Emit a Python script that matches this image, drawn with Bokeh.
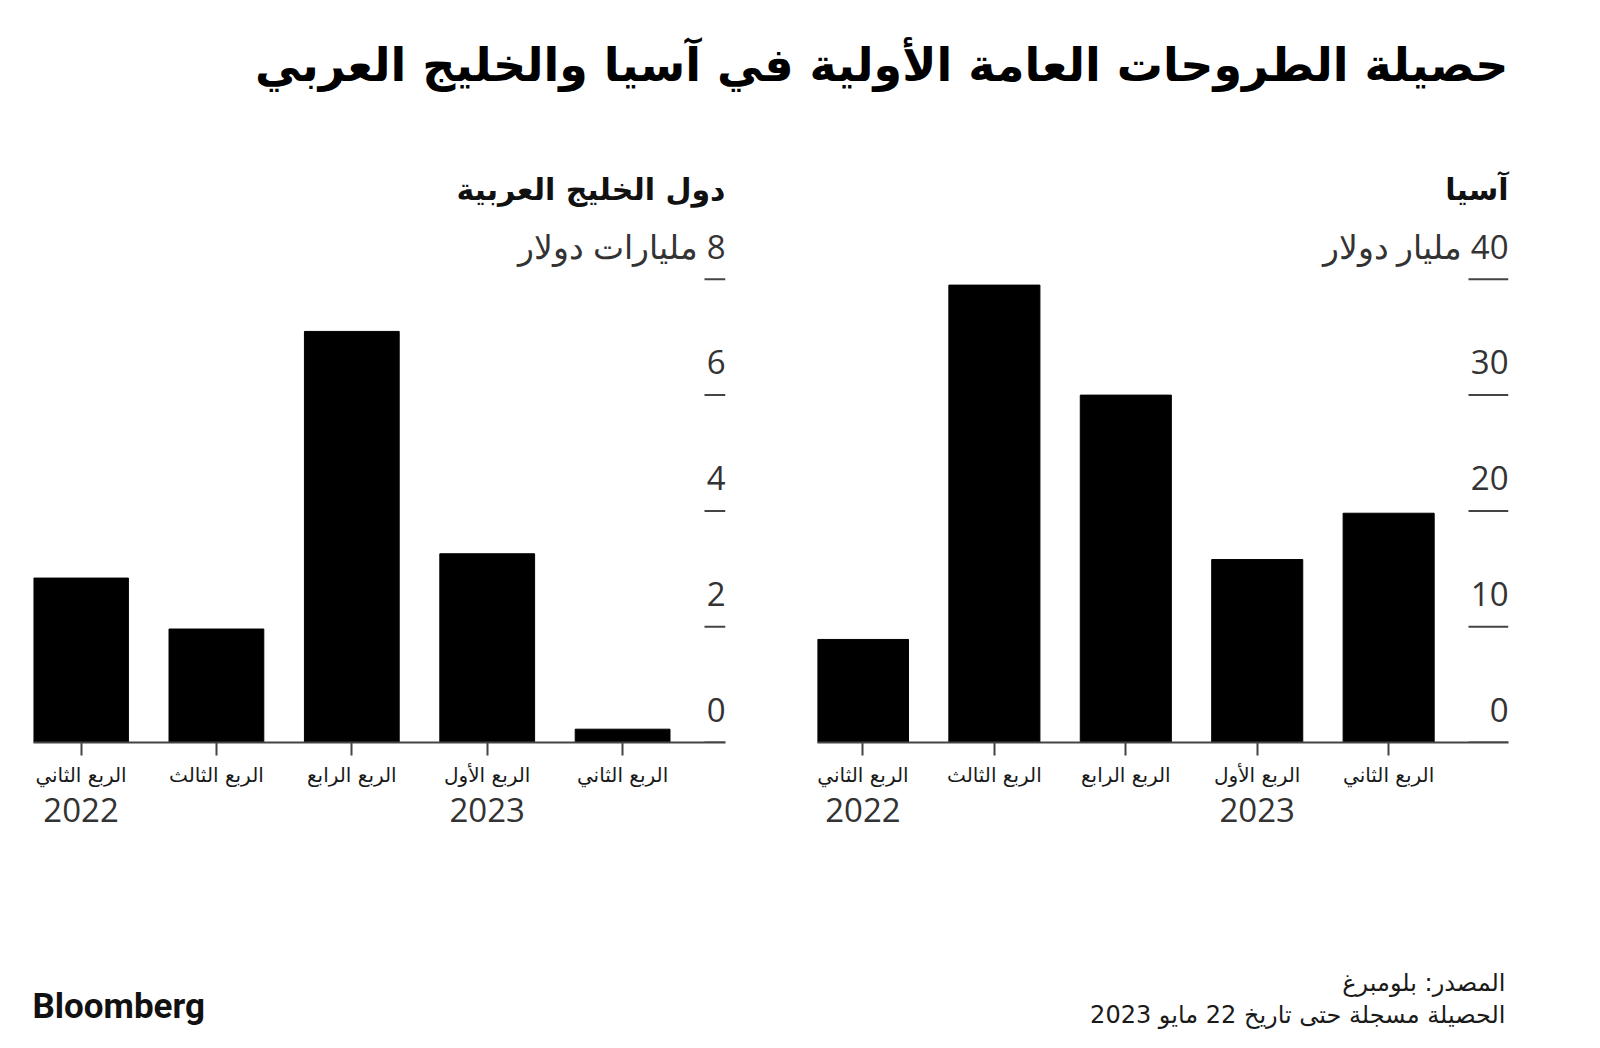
from bokeh.plotting import figure
from bokeh.models import Range1d, LinearAxis, FixedTicker, Label
from bokeh.layouts import column, row
from bokeh.embed import file_html
from bokeh.resources import INLINE
from bokeh.core.properties import value

# ---------------- data ----------------
title_text = "حصيلة الطروحات العامة الأولية في آسيا والخليج العربي"
gulf_title = "دول الخليج العربية"
asia_title = "آسيا"
quarters = ["الربع الثاني", "الربع الثالث", "الربع الرابع", "الربع الأول", "الربع الثاني"]
years = ["2022", "", "", "2023", ""]
gulf_values = [2.84, 1.96, 7.10, 3.26, 0.23]
asia_values = [8.9, 39.5, 30.0, 15.8, 19.8]
gulf_ticks = [0, 2, 4, 6, 8]
gulf_tick_labels = ["0", "2", "4", "6", "\u200f8 مليارات دولار"]
asia_ticks = [0, 10, 20, 30, 40]
asia_tick_labels = ["0", "10", "20", "30", "\u200f40 مليار دولار"]
source_line = "المصدر: بلومبرغ"
note_line = "الحصيلة مسجلة حتى تاريخ 22 مايو 2023"
brand = "Bloomberg"

AR_FONT = "DejaVu Sans"
NUM_FONT = "Open Sans"
INK = "#1a1a1a"
AXIS = "#444444"


def panel(values, ticks, tick_labels, title, x_start, x_end, bar_w,
          frame_w, bl, br, tick_len):
    xs = list(range(len(values)))
    top = ticks[-1] * 1.127
    p = figure(width=bl + frame_w + br, height=730,
               frame_width=frame_w, frame_height=522,
               x_range=Range1d(x_start, x_end), y_range=Range1d(0, top),
               output_backend="svg", toolbar_location=None,
               min_border_left=bl, min_border_right=br,
               min_border_top=70, min_border_bottom=138,
               x_axis_location=None, y_axis_location=None)
    p.outline_line_color = None
    p.grid.visible = False

    p.vbar(x=xs, top=values, width=bar_w, color="#000000")

    # quarter axis
    qa = LinearAxis(ticker=FixedTicker(ticks=xs),
                    major_label_overrides={i: q for i, q in enumerate(quarters)})
    qa.axis_line_color = AXIS
    qa.axis_line_width = 2
    qa.major_tick_line_color = AXIS
    qa.major_tick_line_width = 2
    qa.major_tick_out = 13
    qa.major_tick_in = 0
    qa.minor_tick_line_color = None
    qa.major_label_standoff = 7
    qa.major_label_text_font = AR_FONT
    qa.major_label_text_font_size = "20px"
    qa.major_label_text_color = INK
    p.add_layout(qa, "below")

    # year axis
    yticks = [i for i, y in enumerate(years) if y]
    ya = LinearAxis(ticker=FixedTicker(ticks=yticks),
                    major_label_overrides={i: years[i] for i in yticks})
    ya.axis_line_color = None
    ya.major_tick_line_color = None
    ya.minor_tick_line_color = None
    ya.major_label_standoff = 2
    ya.major_label_text_font = NUM_FONT
    ya.major_label_text_font_size = "33px"
    ya.major_label_text_color = "#333333"
    p.add_layout(ya, "below")

    # short value tick marks at the right edge of the frame
    units_per_px = (x_end - x_start) / frame_w
    p.segment(x0=[x_end - tick_len * units_per_px] * len(ticks), y0=ticks,
              x1=[x_end] * len(ticks), y1=ticks,
              line_color=AXIS, line_width=2)

    # value labels above the tick marks
    p.text(x=[x_end] * len(ticks), y=ticks, text=tick_labels,
           text_align="right", text_baseline="alphabetic", y_offset=-33,
           text_font=value(NUM_FONT), text_font_size="33px", text_color="#333333")

    p.title.text = title
    p.title.align = "right"
    p.title.text_font = AR_FONT
    p.title.text_font_style = "bold"
    p.title.text_font_size = "30px"
    p.title.text_color = "#111111"
    p.title.standoff = 27
    return p


gulf = panel(gulf_values, gulf_ticks, gulf_tick_labels, gulf_title,
             -0.351, 4.76, 0.70, 692, 33, 45, 21)
asia = panel(asia_values, asia_ticks, asia_tick_labels, asia_title,
             -0.346, 4.912, 0.693, 691, 47, 92, 40)

# header
header = figure(width=1600, height=150, x_range=Range1d(0, 1600), y_range=Range1d(150, 0),
                output_backend="svg", toolbar_location=None, min_border=0,
                x_axis_location=None, y_axis_location=None)
header.outline_line_color = None
header.grid.visible = False
header.add_layout(Label(x=1508, y=64, text=title_text, text_align="right",
                        text_baseline="alphabetic", text_font=AR_FONT,
                        text_font_style="bold", text_font_size="46px",
                        text_color="#000000"))

# footer
footer = figure(width=1600, height=168, x_range=Range1d(0, 1600), y_range=Range1d(1048, 880),
                output_backend="svg", toolbar_location=None, min_border=0,
                x_axis_location=None, y_axis_location=None)
footer.outline_line_color = None
footer.grid.visible = False
footer.add_layout(Label(x=32, y=1006, text=brand, text_align="left",
                        text_baseline="alphabetic", text_font="Roboto",
                        text_font_style="bold", text_font_size="35px",
                        text_color="#111111"))
footer.add_layout(Label(x=1505, y=982, text=source_line, text_align="right",
                        text_baseline="alphabetic", text_font=AR_FONT,
                        text_font_size="24px", text_color=INK))
footer.add_layout(Label(x=1505, y=1014, text=note_line, text_align="right",
                        text_baseline="alphabetic", text_font=AR_FONT,
                        text_font_size="24px", text_color=INK))

layout = column(header, row(gulf, asia), footer)
open("out.html", "w").write(file_html(layout, INLINE))
